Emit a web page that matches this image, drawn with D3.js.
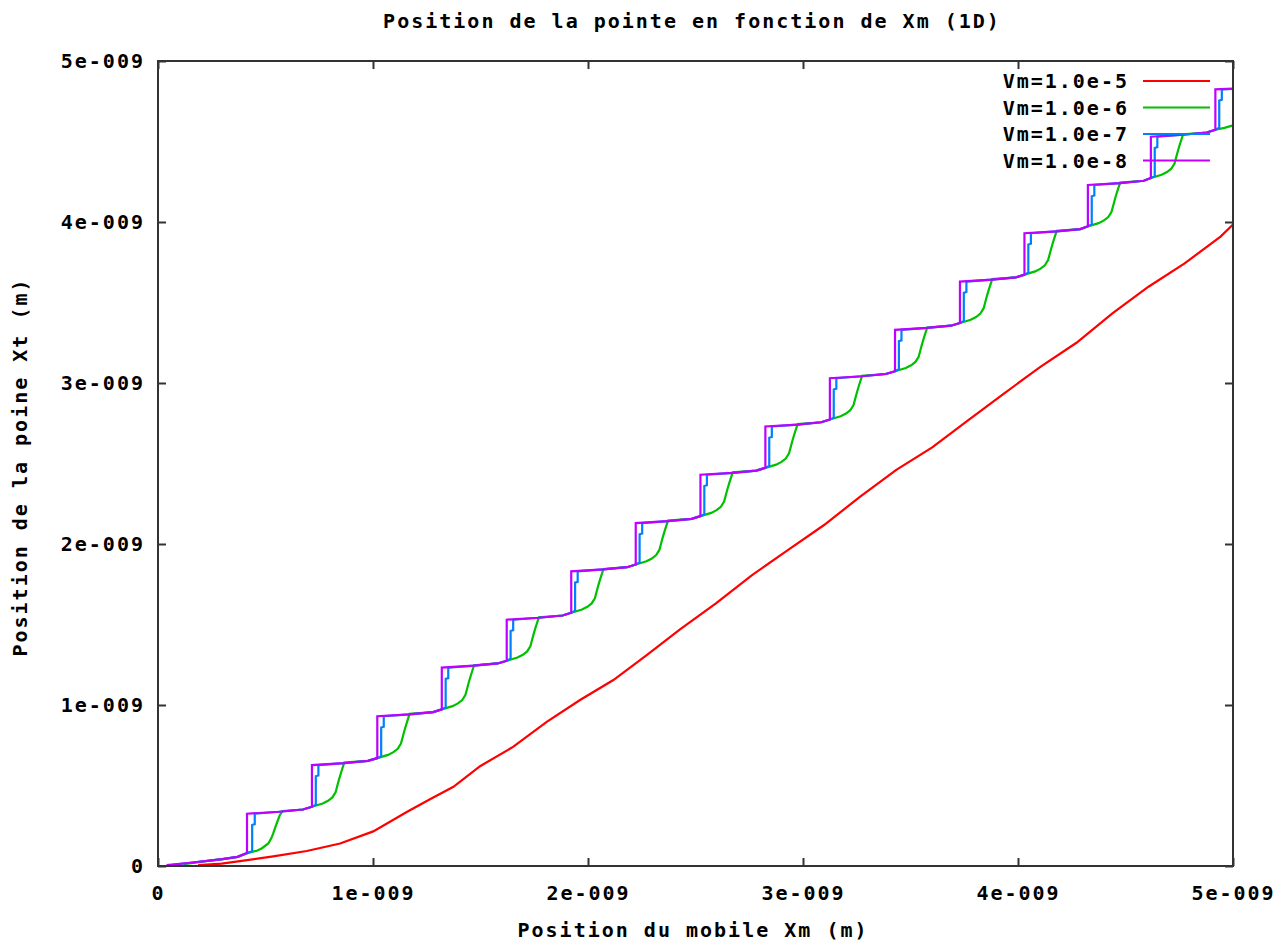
<!DOCTYPE html>
<html>
<head>
<meta charset="utf-8">
<script src="https://d3js.org/d3.v7.min.js"></script>
<style>
body { margin: 0; background: #fff; }
text { font-family: "DejaVu Sans Mono", "Liberation Mono", monospace; font-weight: bold; font-size: 20px; letter-spacing: 2px; fill: #000; }
</style>
</head>
<body>
<div id="chart"></div>
<script>
// values are in units of 1e-9 m
const xTicks = [0, 1, 2, 3, 4, 5];
const xTickLabels = ["0", "1e-009", "2e-009", "3e-009", "4e-009", "5e-009"];
const yTicks = [0, 1, 2, 3, 4, 5];
const yTickLabels = ["0", "1e-009", "2e-009", "3e-009", "4e-009", "5e-009"];

const seriesNames = ["Vm=1.0e-5", "Vm=1.0e-6", "Vm=1.0e-7", "Vm=1.0e-8"];
const seriesColors = ["#ff0000", "#00c000", "#0080ff", "#c000ff"];

const vm5 = [[0.187,0.005],[0.296,0.015],[0.381,0.030],[0.536,0.060],[0.692,0.093],[0.847,0.140],[1.001,0.215],
    [1.157,0.335],[1.265,0.415],[1.374,0.492],[1.498,0.620],[1.653,0.741],[1.808,0.895],[1.963,1.031],[2.118,1.155],
    [2.273,1.310],[2.428,1.470],[2.595,1.631],[2.763,1.807],[2.931,1.963],[3.098,2.118],[3.266,2.294],[3.434,2.460],
    [3.601,2.600],[3.769,2.770],[3.936,2.936],[4.104,3.100],[4.272,3.250],[4.439,3.432],[4.607,3.598],[4.775,3.743],
    [4.942,3.909],[5.000,3.985]];

const vm6 = [[0.12,0.012],[0.24,0.033],[0.30,0.043],[0.37,0.057],[0.414,0.080],
    [0.460,0.095],[0.482,0.109],[0.513,0.140],[0.528,0.175],[0.536,0.202],[0.552,0.264],[0.567,0.317],[0.580,0.342],[0.674,0.351],[0.716,0.368],
    [0.766,0.388],[0.791,0.405],[0.811,0.426],[0.826,0.458],[0.834,0.498],[0.842,0.538],[0.851,0.578],[0.866,0.642],[0.976,0.653],[1.020,0.670],
    [1.070,0.690],[1.095,0.707],[1.115,0.728],[1.130,0.760],[1.138,0.800],[1.146,0.840],[1.155,0.880],[1.170,0.945],[1.280,0.956],[1.320,0.973],
    [1.370,0.993],[1.395,1.010],[1.415,1.031],[1.430,1.063],[1.438,1.103],[1.446,1.143],[1.455,1.183],[1.470,1.247],[1.580,1.258],[1.622,1.275],
    [1.672,1.295],[1.697,1.312],[1.717,1.333],[1.732,1.365],[1.740,1.405],[1.748,1.445],[1.757,1.485],[1.772,1.545],[1.882,1.556],[1.922,1.573],
    [1.972,1.593],[1.997,1.610],[2.017,1.631],[2.032,1.663],[2.040,1.703],[2.048,1.743],[2.057,1.783],[2.072,1.845],[2.182,1.856],[2.222,1.873],
    [2.272,1.893],[2.297,1.910],[2.317,1.931],[2.332,1.963],[2.340,2.003],[2.348,2.043],[2.357,2.083],[2.372,2.145],[2.482,2.156],[2.523,2.173],
    [2.573,2.193],[2.598,2.210],[2.618,2.231],[2.633,2.263],[2.641,2.303],[2.649,2.343],[2.658,2.383],[2.673,2.445],[2.783,2.456],[2.825,2.473],
    [2.875,2.493],[2.900,2.510],[2.920,2.531],[2.935,2.563],[2.943,2.603],[2.951,2.643],[2.960,2.683],[2.975,2.745],[3.085,2.756],[3.125,2.773],
    [3.175,2.793],[3.200,2.810],[3.220,2.831],[3.235,2.863],[3.243,2.903],[3.251,2.943],[3.260,2.983],[3.275,3.045],[3.385,3.056],[3.428,3.073],
    [3.478,3.093],[3.503,3.110],[3.523,3.131],[3.538,3.163],[3.546,3.203],[3.554,3.243],[3.563,3.283],[3.578,3.345],[3.688,3.356],[3.730,3.373],
    [3.780,3.393],[3.805,3.410],[3.825,3.431],[3.840,3.463],[3.848,3.503],[3.856,3.543],[3.865,3.583],[3.880,3.645],[3.990,3.656],[4.030,3.673],
    [4.080,3.693],[4.105,3.710],[4.125,3.731],[4.140,3.763],[4.148,3.803],[4.156,3.843],[4.165,3.883],[4.180,3.945],[4.290,3.956],[4.325,3.973],
    [4.375,3.993],[4.400,4.010],[4.420,4.031],[4.435,4.063],[4.443,4.103],[4.451,4.143],[4.460,4.183],[4.475,4.245],[4.585,4.256],[4.618,4.273],
    [4.668,4.293],[4.693,4.310],[4.713,4.331],[4.728,4.363],[4.736,4.403],[4.744,4.443],[4.753,4.483],[4.768,4.545],[4.878,4.556],[4.918,4.573],
    [4.960,4.585],[5.000,4.600]];

const vm7 = [[0.06,0.006],[0.15,0.020],[0.24,0.033],[0.30,0.043],[0.37,0.057],[0.414,0.080],
    [0.438,0.092],[0.438,0.255],[0.450,0.260],[0.450,0.325],[0.564,0.337],[0.674,0.351],[0.716,0.368],
    [0.734,0.380],[0.734,0.557],[0.746,0.562],[0.746,0.627],[0.866,0.639],[0.976,0.653],[1.020,0.670],
    [1.038,0.682],[1.038,0.860],[1.050,0.865],[1.050,0.930],[1.170,0.942],[1.280,0.956],[1.320,0.973],
    [1.338,0.985],[1.338,1.162],[1.350,1.167],[1.350,1.232],[1.470,1.244],[1.580,1.258],[1.622,1.275],
    [1.640,1.287],[1.640,1.460],[1.652,1.465],[1.652,1.530],[1.772,1.542],[1.882,1.556],[1.922,1.573],
    [1.940,1.585],[1.940,1.760],[1.952,1.765],[1.952,1.830],[2.072,1.842],[2.182,1.856],[2.222,1.873],
    [2.240,1.885],[2.240,2.060],[2.252,2.065],[2.252,2.130],[2.372,2.142],[2.482,2.156],[2.523,2.173],
    [2.541,2.185],[2.541,2.360],[2.553,2.365],[2.553,2.430],[2.673,2.442],[2.783,2.456],[2.825,2.473],
    [2.843,2.485],[2.843,2.660],[2.855,2.665],[2.855,2.730],[2.975,2.742],[3.085,2.756],[3.125,2.773],
    [3.143,2.785],[3.143,2.960],[3.155,2.965],[3.155,3.030],[3.275,3.042],[3.385,3.056],[3.428,3.073],
    [3.446,3.085],[3.446,3.260],[3.458,3.265],[3.458,3.330],[3.578,3.342],[3.688,3.356],[3.730,3.373],
    [3.748,3.385],[3.748,3.560],[3.760,3.565],[3.760,3.630],[3.880,3.642],[3.990,3.656],[4.030,3.673],
    [4.048,3.685],[4.048,3.860],[4.060,3.865],[4.060,3.930],[4.180,3.942],[4.290,3.956],[4.325,3.973],
    [4.343,3.985],[4.343,4.160],[4.355,4.165],[4.355,4.230],[4.475,4.242],[4.585,4.256],[4.618,4.273],
    [4.636,4.285],[4.636,4.460],[4.648,4.465],[4.648,4.530],[4.768,4.542],[4.878,4.556],[4.918,4.573],
    [4.936,4.585],[4.936,4.754],[4.948,4.759],[4.948,4.824],[5.000,4.826]];

const vm8 = [[0.04,0.005],[0.15,0.020],[0.24,0.033],[0.30,0.043],[0.37,0.057],[0.414,0.080],
    [0.414,0.325],[0.564,0.337],[0.674,0.351],[0.716,0.368],
    [0.716,0.627],[0.866,0.639],[0.976,0.653],[1.020,0.670],
    [1.020,0.930],[1.170,0.942],[1.280,0.956],[1.320,0.973],
    [1.320,1.232],[1.470,1.244],[1.580,1.258],[1.622,1.275],
    [1.622,1.530],[1.772,1.542],[1.882,1.556],[1.922,1.573],
    [1.922,1.830],[2.072,1.842],[2.182,1.856],[2.222,1.873],
    [2.222,2.130],[2.372,2.142],[2.482,2.156],[2.523,2.173],
    [2.523,2.430],[2.673,2.442],[2.783,2.456],[2.825,2.473],
    [2.825,2.730],[2.975,2.742],[3.085,2.756],[3.125,2.773],
    [3.125,3.030],[3.275,3.042],[3.385,3.056],[3.428,3.073],
    [3.428,3.330],[3.578,3.342],[3.688,3.356],[3.730,3.373],
    [3.730,3.630],[3.880,3.642],[3.990,3.656],[4.030,3.673],
    [4.030,3.930],[4.180,3.942],[4.290,3.956],[4.325,3.973],
    [4.325,4.230],[4.475,4.242],[4.585,4.256],[4.618,4.273],
    [4.618,4.530],[4.768,4.542],[4.878,4.556],[4.918,4.573],
    [4.918,4.824],[5.000,4.828]];

const series = [vm5, vm6, vm7, vm8];

const plot = {left: 158, right: 1233, top: 61, bottom: 866};

const svg = d3.select("#chart")
    .append("svg")
    .attr("width", 1287)
    .attr("height", 942);

const x = d3.scaleLinear().domain([0, 5]).range([plot.left, plot.right]);
const y = d3.scaleLinear().domain([0, 5]).range([plot.bottom, plot.top]);

function styleAxis(g) {
    g.select(".domain").remove();
    g.selectAll(".tick line").attr("stroke", "#333").attr("stroke-width", 2);
    g.selectAll(".tick text").attr("font-family", null).attr("font-size", null);
}

svg.append("g")
    .attr("transform", `translate(0,${plot.bottom})`)
    .call(d3.axisBottom(x).tickValues(xTicks).tickSize(-8).tickPadding(20)
        .tickFormat((d, i) => xTickLabels[i]))
    .call(styleAxis);

svg.append("g")
    .attr("transform", `translate(0,${plot.top})`)
    .call(d3.axisTop(x).tickValues(xTicks).tickSize(-8).tickFormat(""))
    .call(styleAxis);

svg.append("g")
    .attr("transform", `translate(${plot.left},0)`)
    .call(d3.axisLeft(y).tickValues(yTicks).tickSize(-8).tickPadding(13)
        .tickFormat((d, i) => yTickLabels[i]))
    .call(styleAxis);

svg.append("g")
    .attr("transform", `translate(${plot.right},0)`)
    .call(d3.axisRight(y).tickValues(yTicks).tickSize(-8).tickFormat(""))
    .call(styleAxis);

const line = d3.line()
    .x(d => x(d[0]))
    .y(d => y(d[1]));

series.forEach((s, i) => {
    svg.append("path")
        .datum(s)
        .attr("fill", "none")
        .attr("stroke", seriesColors[i])
        .attr("stroke-width", 2.2)
        .attr("stroke-linejoin", "miter")
        .attr("d", line);
});

svg.append("rect")
    .attr("x", plot.left)
    .attr("y", plot.top)
    .attr("width", plot.right - plot.left)
    .attr("height", plot.bottom - plot.top)
    .attr("fill", "none")
    .attr("stroke", "#333")
    .attr("stroke-width", 2);

// legend
const legend = svg.append("g");
seriesNames.forEach((name, i) => {
    const ly = 81 + i * 26.5;
    legend.append("text")
        .attr("x", 1129)
        .attr("y", ly)
        .attr("dy", "0.35em")
        .attr("text-anchor", "end")
        .text(name);
    legend.append("line")
        .attr("x1", 1143).attr("x2", 1210)
        .attr("y1", ly).attr("y2", ly)
        .attr("stroke", seriesColors[i])
        .attr("stroke-width", 2.2);
});

svg.append("text")
    .attr("x", 692)
    .attr("y", 28)
    .attr("text-anchor", "middle")
    .text("Position de la pointe en fonction de Xm (1D)");

svg.append("text")
    .attr("x", 693)
    .attr("y", 937)
    .attr("text-anchor", "middle")
    .text("Position du mobile Xm (m)");

svg.append("text")
    .attr("transform", "translate(27,467) rotate(-90)")
    .attr("text-anchor", "middle")
    .text("Position de la poine Xt (m)");
</script>
</body>
</html>
